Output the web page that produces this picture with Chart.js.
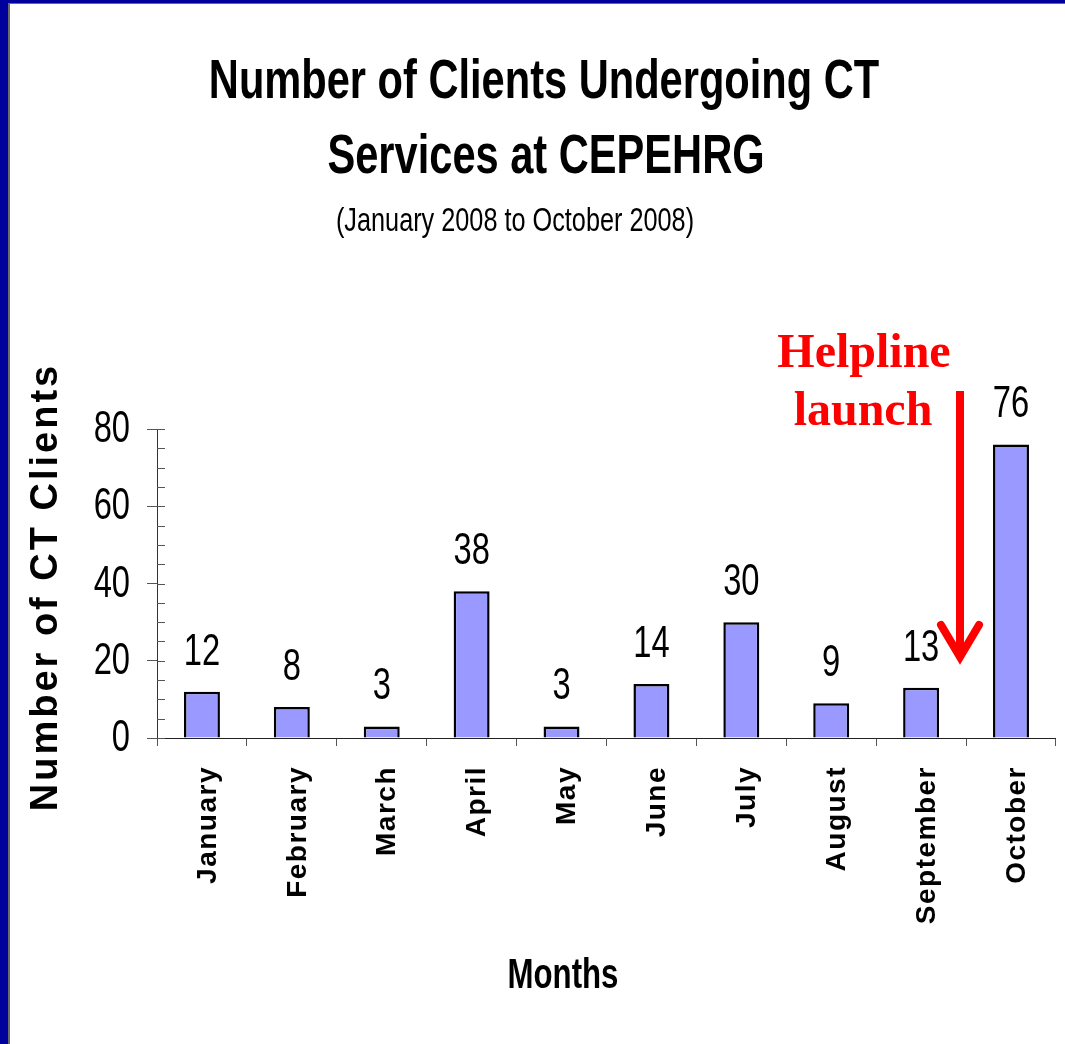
<!DOCTYPE html>
<html>
<head>
<meta charset="utf-8">
<script src="https://cdn.jsdelivr.net/npm/chart.js@4.4.1/dist/chart.umd.min.js"></script>
<style>
  html, body { margin: 0; padding: 0; }
  body { background: #00009c; width: 1065px; height: 1044px; position: relative; overflow: hidden; }
  #slide { position: absolute; left: 8px; top: 3px; right: 0; bottom: 0; background: #fff;
           border-left: 2px solid #6b6b6b; border-top: 1px solid #6b6b6b; }
  #wrap { position: absolute; left: 0; top: 0; width: 1065px; height: 1044px; }
</style>
</head>
<body>
<div id="slide"></div>
<div id="wrap"><canvas id="ctChart"></canvas></div>
<script>
(function () {
  'use strict';

  const months = ['January', 'February', 'March', 'April', 'May', 'June', 'July', 'August', 'September', 'October'];
  const clients = [12, 8, 3, 38, 3, 14, 30, 9, 13, 76];
  const yMax = 80;
  const yStep = 20;
  const yMinorStep = 5;
  const titleLines = ['Number of Clients Undergoing CT', 'Services at CEPEHRG'];
  const subtitle = '(January 2008 to October 2008)';
  const xTitle = 'Months';
  const yTitle = 'Number of CT Clients';
  const noteLines = ['Helpline', 'launch'];

  const SANS = '"Liberation Sans", Arial, sans-serif';
  const SERIF = '"Liberation Serif", "Times New Roman", serif';
  const SQUEEZE = 0.743; // horizontal text on the slide is rendered condensed

  function squeezed(ctx, text, x, y, font, align, baseline) {
    ctx.save();
    ctx.font = font;
    ctx.fillStyle = '#000';
    ctx.textAlign = align || 'center';
    ctx.textBaseline = baseline || 'alphabetic';
    ctx.translate(x, y);
    ctx.scale(SQUEEZE, 1);
    ctx.fillText(text, 0, 0);
    ctx.restore();
  }

  const slideText = {
    id: 'slideText',
    beforeDraw(chart) {
      // month labels are drawn spaced out, like the slide
      chart.ctx.letterSpacing = '1.5px';
    },
    beforeDatasetsDraw(chart) {
      chart.ctx.letterSpacing = '0px';
    },
    afterDatasetsDraw(chart) {
      const ctx = chart.ctx;
      const meta = chart.getDatasetMeta(0);
      meta.data.forEach((bar, i) => {
        squeezed(ctx, String(clients[i]), bar.x, bar.y - 27, '44px ' + SANS, 'center');
      });
    },
    afterDraw(chart) {
      const ctx = chart.ctx;
      const y = chart.scales.y;
      const area = chart.chartArea;

      // minor ticks on the inner side of the value axis
      ctx.save();
      ctx.strokeStyle = '#555';
      ctx.lineWidth = 1;
      for (let v = 0; v <= yMax; v += yMinorStep) {
        const py = Math.round(y.getPixelForValue(v)) + 0.5;
        ctx.beginPath();
        ctx.moveTo(area.left, py);
        ctx.lineTo(area.left + 8, py);
        ctx.stroke();
      }
      ctx.restore();

      // value labels
      y.ticks.forEach((t) => {
        squeezed(ctx, String(t.value), 130, y.getPixelForValue(t.value) + 1, '44px ' + SANS, 'right', 'middle');
      });

      // value axis title, rotated and spaced
      ctx.save();
      ctx.translate(47, 587);
      ctx.rotate(-Math.PI / 2);
      ctx.font = 'bold 38px ' + SANS;
      ctx.letterSpacing = '3px';
      ctx.fillStyle = '#000';
      ctx.textAlign = 'center';
      ctx.textBaseline = 'middle';
      ctx.fillText(yTitle, 0, 0);
      ctx.restore();

      // titles
      squeezed(ctx, titleLines[0], 544, 98, 'bold 56px ' + SANS, 'center');
      squeezed(ctx, titleLines[1], 546, 173, 'bold 56px ' + SANS, 'center');
      squeezed(ctx, subtitle, 515, 231, '34px ' + SANS, 'center');
      squeezed(ctx, xTitle, 563, 988, 'bold 42px ' + SANS, 'center');

      // helpline annotation
      ctx.save();
      ctx.fillStyle = '#ff0000';
      ctx.font = 'bold 48px ' + SERIF;
      ctx.textAlign = 'center';
      ctx.fillText(noteLines[0], 864, 367);
      ctx.fillText(noteLines[1], 863, 425);
      ctx.strokeStyle = '#ff0000';
      ctx.lineWidth = 8;
      ctx.lineCap = 'butt';
      ctx.beginPath();
      ctx.moveTo(960, 391);
      ctx.lineTo(960, 656);
      ctx.stroke();
      ctx.lineCap = 'round';
      ctx.beginPath();
      ctx.moveTo(941, 625);
      ctx.lineTo(960, 657);
      ctx.lineTo(979, 625);
      ctx.stroke();
      ctx.restore();
    }
  };

  new Chart(document.getElementById('ctChart'), {
    type: 'bar',
    data: {
      labels: months,
      datasets: [
        {
          label: 'CT clients',
          data: clients,
          backgroundColor: '#9999ff',
          borderColor: '#000000',
          borderWidth: 2.5,
          borderSkipped: 'bottom',
          barPercentage: 0.4,
          categoryPercentage: 1.0,
        },
      ],
    },
    options: {
      responsive: true,
      maintainAspectRatio: false,
      animation: false,
      layout: { padding: { top: 429, right: 8, left: 0, bottom: 0 } },
      plugins: {
        legend: { display: false },
        tooltip: { enabled: false },
        title: { display: false },
      },
      scales: {
        x: {
          offset: true,
          grid: { offset: true, drawOnChartArea: false, tickLength: 8, color: '#555' },
          border: { color: '#222', width: 1 },
          ticks: {
            autoSkip: false,
            minRotation: 90,
            maxRotation: 90,
            padding: 20,
            labelOffset: 6,
            color: '#000',
            font: { family: SANS, size: 28, weight: 'bold' },
          },
          afterFit(scale) { scale.height = 306; },
        },
        y: {
          min: 0,
          max: yMax,
          ticks: { stepSize: yStep, display: false },
          grid: { drawOnChartArea: false, tickLength: 10, color: '#555' },
          border: { color: '#333', width: 1 },
          afterFit(scale) { scale.width = 157; },
        },
      },
    },
    plugins: [slideText],
  });
})();
</script>
</body>
</html>
